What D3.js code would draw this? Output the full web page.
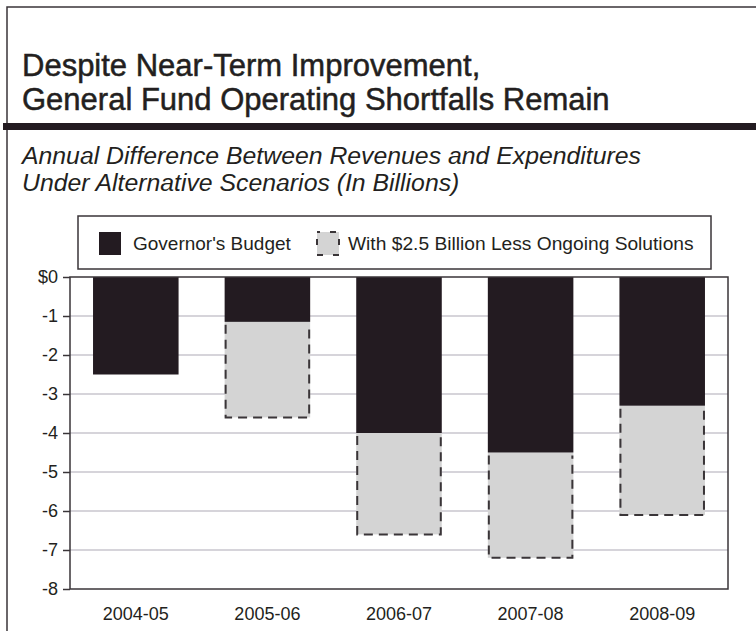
<!DOCTYPE html>
<html>
<head>
<meta charset="utf-8">
<script src="https://cdn.jsdelivr.net/npm/d3@7"></script>
<style>
  body { margin: 0; background: #fff; }
  svg { display: block; font-family: "Liberation Sans", Arial, Helvetica, sans-serif; }
</style>
</head>
<body>
<div id="chart"></div>
<script>
// Chart data
const years = ["2004-05", "2005-06", "2006-07", "2007-08", "2008-09"];
const governorsBudget = [-2.5, -1.15, -4.0, -4.5, -3.3];
const lessSolutions = [null, -3.6, -6.6, -7.2, -6.1];
const yTicks = [0, -1, -2, -3, -4, -5, -6, -7, -8];
const legendLabels = ["Governor's Budget", "With $2.5 Billion Less Ongoing Solutions"];

const width = 756, height = 631;
const plot = { left: 70, right: 728, top: 277, bottom: 589 };

const darkFill = "#231b21";
const grayFill = "#d4d4d4";
const lineColor = "#3a3538";
const textColor = "#231f20";

const svg = d3.select("#chart").append("svg")
  .attr("width", width)
  .attr("height", height);

// Outer frame (top and left edges) and heavy rule under the title
svg.append("path")
  .attr("d", `M7,${height} V7 H${width}`)
  .attr("fill", "none")
  .attr("stroke", lineColor)
  .attr("stroke-width", 1.5);

svg.append("rect")
  .attr("x", 3).attr("y", 123)
  .attr("width", width - 3).attr("height", 7)
  .attr("fill", darkFill);

// Title (two separate lines)
const titleLines = ["Despite Near-Term Improvement,", "General Fund Operating Shortfalls Remain"];
svg.append("g")
  .selectAll("text")
  .data(titleLines)
  .enter()
  .append("text")
  .attr("x", 22)
  .attr("y", (d, i) => 76 + i * 34)
  .attr("font-size", 31)
  .attr("fill", textColor)
  .attr("stroke", textColor)
  .attr("stroke-width", 0.5)
  .text(d => d);

// Subtitle
const subLines = ["Annual Difference Between Revenues and Expenditures", "Under Alternative Scenarios (In Billions)"];
svg.append("g")
  .selectAll("text")
  .data(subLines)
  .enter()
  .append("text")
  .attr("x", 22)
  .attr("y", (d, i) => 164 + i * 27)
  .attr("font-size", 24.8)
  .attr("font-style", "italic")
  .attr("fill", textColor)
  .text(d => d);

// Scales
const x = d3.scaleBand()
  .domain(years)
  .range([plot.left, plot.right])
  .paddingInner(0.35)
  .paddingOuter(0.175);

const y = d3.scaleLinear()
  .domain([-8, 0])
  .range([plot.bottom, plot.top]);

// Gridlines
svg.append("g")
  .selectAll("line")
  .data(yTicks.filter(d => d !== 0 && d !== -8))
  .enter()
  .append("line")
  .attr("x1", plot.left).attr("x2", plot.right)
  .attr("y1", d => y(d)).attr("y2", d => y(d))
  .attr("stroke", "#c8c6ce")
  .attr("stroke-width", 1.5);

// Gray segments (alternative scenario) with dashed outline
const alt = years.map((yr, i) => ({ yr, top: governorsBudget[i], bottom: lessSolutions[i] }))
  .filter(d => d.bottom !== null);

svg.append("g")
  .selectAll("rect")
  .data(alt)
  .enter()
  .append("rect")
  .attr("x", d => x(d.yr))
  .attr("y", d => y(d.top))
  .attr("width", x.bandwidth())
  .attr("height", d => y(d.bottom) - y(d.top))
  .attr("fill", grayFill);

svg.append("g")
  .selectAll("path")
  .data(alt)
  .enter()
  .append("path")
  .attr("d", d => {
    const x0 = x(d.yr) + 1, x1 = x(d.yr) + x.bandwidth() - 1;
    return `M${x0},${y(d.top) + 3} V${y(d.bottom)} H${x1} V${y(d.top) + 3}`;
  })
  .attr("fill", "none")
  .attr("stroke", lineColor)
  .attr("stroke-width", 2)
  .attr("stroke-dasharray", "9,6");

// Governor's Budget bars
svg.append("g")
  .selectAll("rect")
  .data(years)
  .enter()
  .append("rect")
  .attr("x", d => x(d))
  .attr("y", y(0))
  .attr("width", x.bandwidth())
  .attr("height", (d, i) => y(governorsBudget[i]) - y(0))
  .attr("fill", darkFill);

// Plot frame
svg.append("rect")
  .attr("x", plot.left).attr("y", plot.top)
  .attr("width", plot.right - plot.left)
  .attr("height", plot.bottom - plot.top)
  .attr("fill", "none")
  .attr("stroke", lineColor)
  .attr("stroke-width", 1.5);

// Y axis
const yAxis = svg.append("g")
  .attr("transform", `translate(${plot.left},0)`)
  .call(d3.axisLeft(y)
    .tickValues(yTicks)
    .tickSize(7)
    .tickPadding(5)
    .tickFormat(d => d === 0 ? "$0" : d));
yAxis.select(".domain").remove();
yAxis.selectAll("line").attr("stroke", lineColor).attr("stroke-width", 1.5);
yAxis.selectAll("text")
  .attr("font-size", 18)
  .attr("font-family", null)
  .attr("fill", textColor);

// X axis labels
const xAxis = svg.append("g")
  .attr("transform", `translate(0,${plot.bottom})`)
  .call(d3.axisBottom(x).tickSize(0).tickPadding(18));
xAxis.select(".domain").remove();
xAxis.selectAll("text")
  .attr("font-size", 18)
  .attr("font-family", null)
  .attr("fill", textColor);

// Legend
const legend = svg.append("g");
legend.append("rect")
  .attr("x", 78).attr("y", 216)
  .attr("width", 633).attr("height", 53)
  .attr("fill", "#fff")
  .attr("stroke", lineColor)
  .attr("stroke-width", 1.5);

legend.append("rect")
  .attr("x", 99).attr("y", 232)
  .attr("width", 22).attr("height", 23)
  .attr("fill", darkFill);
legend.append("text")
  .attr("x", 133).attr("y", 250)
  .attr("font-size", 19)
  .attr("fill", textColor)
  .text(legendLabels[0]);

legend.append("rect")
  .attr("x", 317).attr("y", 232)
  .attr("width", 22).attr("height", 23)
  .attr("fill", grayFill)
  .attr("stroke", lineColor)
  .attr("stroke-width", 2)
  .attr("stroke-dasharray", "6,10")
  .attr("stroke-dashoffset", 3);
legend.append("text")
  .attr("x", 348).attr("y", 250)
  .attr("font-size", 19.2)
  .attr("fill", textColor)
  .text(legendLabels[1]);
</script>
</body>
</html>
